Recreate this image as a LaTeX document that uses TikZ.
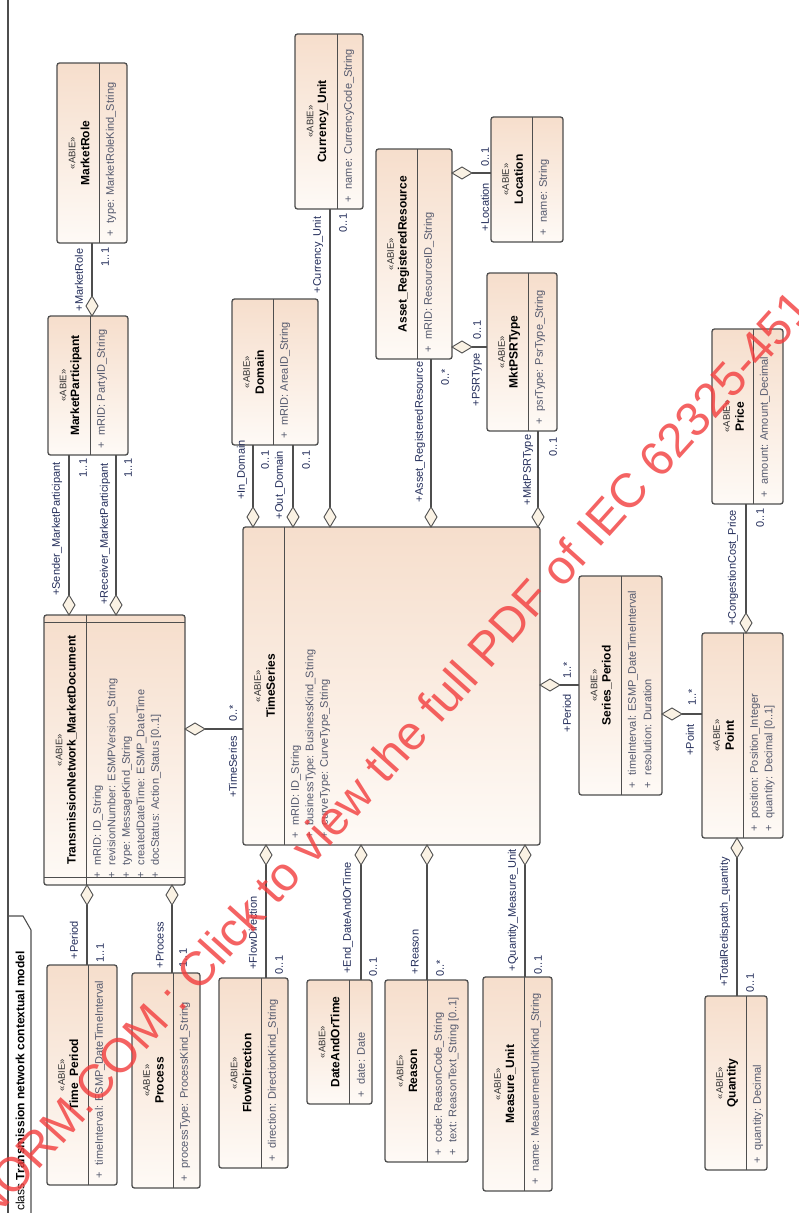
\documentclass[tikz,border=0pt]{standalone}
\usepackage{fontspec}
\setmainfont{Liberation Sans}
\usetikzlibrary{shapes.geometric,calc}
\definecolor{peach}{RGB}{246,222,204}
\definecolor{peachlight}{RGB}{254,250,246}
\definecolor{boxline}{RGB}{78,78,78}
\definecolor{lbl}{RGB}{35,45,90}
\definecolor{attrc}{RGB}{85,90,110}
\definecolor{diafill}{RGB}{250,242,228}
\definecolor{wmred}{RGB}{242,60,60}
\tikzset{
  classbox/.style={draw=boxline, line width=1.3pt, rounded corners=2.5pt, top color=peach, bottom color=peachlight, inner sep=0, outer sep=0, anchor=north west},
  divl/.style={draw=boxline, line width=1pt},
  stereo/.style={rotate=90, font=\fontsize{9.5}{11}\selectfont, text=black!80, inner sep=0},
  cname/.style={rotate=90, font=\bfseries\fontsize{12}{14}\selectfont, inner sep=0},
  attr/.style={rotate=90, anchor=west, font=\fontsize{11}{13}\selectfont, text=attrc, inner sep=0},
  role/.style={rotate=90, font=\fontsize{11}{13}\selectfont, text=lbl, inner sep=0},
  conn/.style={draw=boxline, line width=1.1pt},
  vdia/.style={diamond, draw=boxline, fill=diafill, line width=0.9pt, minimum width=12pt, minimum height=20pt, inner sep=0, outer sep=0},
  hdia/.style={diamond, draw=boxline, fill=diafill, line width=0.9pt, minimum width=20pt, minimum height=12pt, inner sep=0, outer sep=0},
  framel/.style={draw=boxline, line width=1.1pt},
  titletext/.style={rotate=90, anchor=west, font=\fontsize{12}{14}\selectfont, inner sep=0},
  wmark/.style={rotate=48, anchor=base west, font=\fontsize{48}{56}\selectfont, text=wmred, text opacity=0.8, inner sep=0}
}
\newcommand{\umlclass}[8]{%
  \node[classbox, minimum width={(#4-#2)*1pt}, minimum height={(#5-#3)*1pt}] (#1) at (#2,#3) {};
  \draw[divl] ([xshift={(#6-#2)*1pt}]#1.north west) -- ([xshift={(#6-#2)*1pt}]#1.south west);
  \node[stereo] (#1-st) at ({(#2+#6)/2-6},{(#3+#5)/2}) {«ABIE»};
  \node[cname] (#1-nm) at ({(#2+#6)/2+7},{(#3+#5)/2}) {#7};
  \foreach \a [count=\i] in {#8} {\node[attr] (#1-a\i) at ({#6+12+14.5*(\i-1)},{#5-6}) {+\hspace{7pt}\a};}
}
\begin{document}
\begin{tikzpicture}[x=1pt,y=-1pt]
\useasboundingbox (0,0) rectangle (799,1213);
\fill[white] (0,0) rectangle (799,1213);
% frame
\draw[framel] (8,0) -- (8,1213);
\draw[framel] (8,916) -- (23,916) -- (31,930) -- (31,1213);
\node[titletext] (title) at (20,1211) {class \textbf{Transmission network contextual model}};
% classes
\umlclass{mr}{57}{63}{127}{243}{99}{MarketRole}{type: MarketRoleKind\_String}
\umlclass{mp}{48}{316}{128}{455}{90}{MarketParticipant}{mRID: PartyID\_String}
\umlclass{tnmd}{44}{615}{185}{885}{86}{TransmissionNetwork\_MarketDocument}{mRID: ID\_String, revisionNumber: ESMPVersion\_String, type: MessageKind\_String, createdDateTime: ESMP\_DateTime, docStatus: Action\_Status [0..1]}
\draw[divl] ([yshift=-7pt]tnmd.north west) -- ([yshift=-7pt]tnmd.north east);
\draw[divl] ([yshift=8pt]tnmd.south west) -- ([yshift=8pt]tnmd.south east);
\umlclass{tp}{47}{965}{117}{1185}{88}{Time\_Period}{timeInterval: ESMP\_DateTimeInterval}
\umlclass{pr}{132}{973}{200}{1188}{173}{Process}{processType: ProcessKind\_String}
\umlclass{dom}{232}{299}{318}{445}{273}{Domain}{mRID: AreaID\_String}
\umlclass{cu}{295}{34}{363}{209}{337}{Currency\_Unit}{name: CurrencyCode\_String}
\umlclass{arr}{376}{149}{452}{359}{417}{Asset\_RegisteredResource}{mRID: ResourceID\_String}
\umlclass{loc}{491}{117}{563}{242}{532}{Location}{name: String}
\umlclass{psr}{487}{273}{557}{431}{528}{MktPSRType}{psrType: PsrType\_String}
\umlclass{ts}{243}{527}{540}{845}{284}{TimeSeries}{mRID: ID\_String, businessType: BusinessKind\_String, curveType: CurveType\_String}
\umlclass{fd}{219}{978}{288}{1168}{261}{FlowDirection}{direction: DirectionKind\_String}
\umlclass{dt}{307}{980}{372}{1104}{349}{DateAndOrTime}{date: Date}
\umlclass{rs}{385}{980}{468}{1162}{427}{Reason}{code: ReasonCode\_String, text: ReasonText\_String [0..1]}
\umlclass{mu}{483}{977}{552}{1191}{524}{Measure\_Unit}{name: MeasurementUnitKind\_String}
\umlclass{sp}{579}{576}{662}{795}{621}{Series\_Period}{timeInterval: ESMP\_DateTimeInterval, resolution: Duration}
\umlclass{pt}{702}{633}{783}{838}{743}{Point}{position: Position\_Integer, quantity: Decimal [0..1]}
\umlclass{prc}{712}{329}{783}{504}{753}{Price}{amount: Amount\_Decimal}
\umlclass{qty}{705}{996}{767}{1170}{746}{Quantity}{quantity: Decimal}
% connectors
\node[vdia, anchor=south] (dmr) at (92,316) {};
\draw[conn] (dmr.north) -- (dmr.north |- mr.south);
\node[vdia, anchor=south] (dmp1) at (69,615) {};
\draw[conn] (dmp1.north) -- (dmp1.north |- mp.south);
\node[vdia, anchor=south] (dmp2) at (116,615) {};
\draw[conn] (dmp2.north) -- (dmp2.north |- mp.south);
\node[vdia, anchor=north] (dtp) at (87,885) {};
\draw[conn] (dtp.south) -- (dtp.south |- tp.north);
\node[vdia, anchor=north] (dpr) at (172,885) {};
\draw[conn] (dpr.south) -- (dpr.south |- pr.north);
\node[hdia, anchor=west] (dts) at (185,729) {};
\draw[conn] (dts.east) -- (dts.east -| ts.west);
\node[vdia, anchor=south] (ddom1) at (253,527) {};
\draw[conn] (ddom1.north) -- (ddom1.north |- dom.south);
\node[vdia, anchor=south] (ddom2) at (293,527) {};
\draw[conn] (ddom2.north) -- (ddom2.north |- dom.south);
\node[vdia, anchor=south] (dcu) at (330,527) {};
\draw[conn] (dcu.north) -- (dcu.north |- cu.south);
\node[vdia, anchor=south] (darr) at (431,527) {};
\draw[conn] (darr.north) -- (darr.north |- arr.south);
\node[vdia, anchor=south] (dpsr) at (538,527) {};
\draw[conn] (dpsr.north) -- (dpsr.north |- psr.south);
\node[hdia, anchor=west] (dsp) at (540,685) {};
\draw[conn] (dsp.east) -- (dsp.east -| sp.west);
\node[vdia, anchor=north] (dfd) at (266,845) {};
\draw[conn] (dfd.south) -- (dfd.south |- fd.north);
\node[vdia, anchor=north] (ddt) at (361,845) {};
\draw[conn] (ddt.south) -- (ddt.south |- dt.north);
\node[vdia, anchor=north] (drs) at (427,845) {};
\draw[conn] (drs.south) -- (drs.south |- rs.north);
\node[vdia, anchor=north] (dmu) at (525,845) {};
\draw[conn] (dmu.south) -- (dmu.south |- mu.north);
\node[hdia, anchor=west] (dloc) at (452,173) {};
\draw[conn] (dloc.east) -- (dloc.east -| loc.west);
\node[hdia, anchor=west] (dps) at (452,347) {};
\draw[conn] (dps.east) -- (dps.east -| psr.west);
\node[hdia, anchor=west] (dpt) at (662,714) {};
\draw[conn] (dpt.east) -- (dpt.east -| pt.west);
\node[vdia, anchor=south] (dprc) at (746,633) {};
\draw[conn] (dprc.north) -- (dprc.north |- prc.south);
\node[vdia, anchor=north] (dqty) at (737,838) {};
\draw[conn] (dqty.south) -- (dqty.south |- qty.north);
% role labels
\node[role] (l-mr1) at (79,280) {+MarketRole};
\node[role] (l-mr2) at (105,257) {1..1};
\node[role] (l-mp1) at (57,529) {+Sender\_MarketParticipant};
\node[role] (l-mp2) at (83,468) {1..1};
\node[role] (l-mp3) at (105,534) {+Receiver\_MarketParticipant};
\node[role] (l-mp4) at (128,468) {1..1};
\node[role] (l-tp1) at (74,940) {+Period};
\node[role] (l-tp2) at (100,953) {1..1};
\node[role] (l-pr1) at (160,945) {+Process};
\node[role] (l-pr2) at (183,958) {1..1};
\node[role] (l-ts1) at (233,713) {0..*};
\node[role] (l-ts2) at (233,767) {+TimeSeries};
\node[role] (l-d1) at (242,470) {+In\_Domain};
\node[role] (l-d2) at (265,460) {0..1};
\node[role] (l-d3) at (280,485) {+Out\_Domain};
\node[role] (l-d4) at (306,460) {0..1};
\node[role] (l-cu1) at (318,255) {+Currency\_Unit};
\node[role] (l-cu2) at (343,223) {0..1};
\node[role] (l-ar1) at (420,432) {+Asset\_RegisteredResource};
\node[role] (l-ar2) at (445,377) {0..*};
\node[role] (l-lo1) at (485,157) {0..1};
\node[role] (l-lo2) at (485,207) {+Location};
\node[role] (l-ps1) at (477,330) {0..1};
\node[role] (l-ps2) at (477,380) {+PSRType};
\node[role] (l-mk1) at (528,470) {+MktPSRType};
\node[role] (l-mk2) at (553,447) {0..1};
\node[role] (l-sp1) at (567,670) {1..*};
\node[role] (l-sp2) at (567,713) {+Period};
\node[role] (l-pt1) at (692,697) {1..*};
\node[role] (l-pt2) at (690,740) {+Point};
\node[role] (l-pc1) at (733,568) {+CongestionCost\_Price};
\node[role] (l-pc2) at (760,518) {0..1};
\node[role] (l-fd1) at (253,933) {+FlowDirection};
\node[role] (l-fd2) at (279,965) {0..1};
\node[role] (l-dt1) at (348,918) {+End\_DateAndOrTime};
\node[role] (l-dt2) at (373,967) {0..1};
\node[role] (l-rs1) at (415,952) {+Reason};
\node[role] (l-rs2) at (440,968) {0..*};
\node[role] (l-mu1) at (513,910) {+Quantity\_Measure\_Unit};
\node[role] (l-mu2) at (538,965) {0..1};
\node[role] (l-qt1) at (725,922) {+TotalRedispatch\_quantity};
\node[role] (l-qt2) at (750,983) {0..1};
% watermark
\begin{scope}
\clip (0,0) rectangle (799,1213);
\node[wmark] (wm) at (-55,1275) {ECNORM.COM : Click to view the full PDF of IEC 62325-451-5};
\end{scope}
\end{tikzpicture}
\end{document}
